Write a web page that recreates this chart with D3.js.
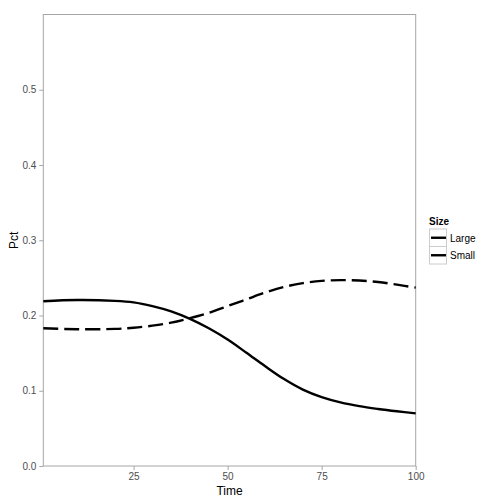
<!DOCTYPE html>
<html><head><meta charset="utf-8">
<script src="https://cdn.jsdelivr.net/npm/d3@7"></script>
<style>body{margin:0;background:#fff}text{font-family:"Liberation Sans",Arial,sans-serif}</style>
</head><body><svg id="c" width="504" height="504"></svg>
<script>
const times = [1,10,20,25,30,35,40,45,50,55,60,65,70,75,80,85,90,95,100];
const small = [0.219,0.2205,0.2195,0.2175,0.2125,0.2055,0.1955,0.183,0.168,0.1505,0.1325,0.1155,0.1015,0.0915,0.0845,0.0795,0.0758,0.0727,0.070];
const large = [0.183,0.1818,0.1822,0.1838,0.1865,0.1905,0.1965,0.2035,0.2125,0.2215,0.2305,0.238,0.243,0.246,0.247,0.2465,0.2445,0.241,0.237];
const xTicks = [25,50,75,100];
const yTicks = [0,0.1,0.2,0.3,0.4,0.5];
const seriesNames = ["Large","Small"];

const svg = d3.select("#c");
const L=43.3,R=415.7,T=14.5,B=466;
const x = d3.scaleLinear().domain([1,100]).range([L,R]);
const y = d3.scaleLinear().domain([0,0.6]).range([B,T]);
const grey="#4d4d4d";

svg.append("rect").attr("x",L).attr("y",T).attr("width",R-L).attr("height",B-T)
  .attr("fill","#fff").attr("stroke","#a6a6a6").attr("stroke-width",1);

const xa = svg.append("g").attr("transform",`translate(0,${B})`)
  .call(d3.axisBottom(x).tickValues(xTicks).tickSize(4).tickPadding(3).tickFormat(d3.format("d")));
const ya = svg.append("g").attr("transform",`translate(${L},0)`)
  .call(d3.axisLeft(y).tickValues(yTicks).tickSize(4).tickPadding(3).tickFormat(d3.format(".1f")));
[xa,ya].forEach(a=>{
  a.select(".domain").remove();
  a.selectAll(".tick line").attr("stroke","#a6a6a6");
  a.selectAll(".tick text").attr("fill",grey).style("font-size","10px").style("font-family","Liberation Sans, Arial, sans-serif");
});

const line = d3.line().curve(d3.curveCatmullRom.alpha(0.5)).x(d=>x(d[0])).y(d=>y(d[1]));
const data = {Large: times.map((t,i)=>[t,large[i]]), Small: times.map((t,i)=>[t,small[i]])};
const dash = {Large:"15,6", Small:null};
seriesNames.forEach(n=>{
  svg.append("path").datum(data[n]).attr("d",line).attr("fill","none")
    .attr("stroke","#000").attr("stroke-width",2.4).attr("stroke-dasharray",dash[n]);
});

svg.append("text").attr("x",(L+R)/2).attr("y",495).attr("text-anchor","middle")
  .style("font-size","12px").attr("fill","#000").text("Time");
svg.append("text").attr("transform",`translate(18,${(T+B)/2}) rotate(-90)`).attr("text-anchor","middle")
  .style("font-size","12px").attr("fill","#000").text("Pct");

const lg = svg.append("g");
lg.append("text").attr("x",429).attr("y",225).style("font-size","10px").style("font-weight","bold").text("Size");
seriesNames.forEach((n,i)=>{
  const ky = 229 + i*17.5;
  lg.append("rect").attr("x",429.5).attr("y",ky).attr("width",17).attr("height",17.5)
    .attr("fill","#fff").attr("stroke","#cccccc").attr("stroke-width",1);
  lg.append("line").attr("x1",431).attr("x2",446).attr("y1",ky+8.75).attr("y2",ky+8.75)
    .attr("stroke","#000").attr("stroke-width",2.4).attr("stroke-dasharray",dash[n]);
  lg.append("text").attr("x",450).attr("y",ky+12.5).style("font-size","10px").attr("fill","#000").text(n);
});
</script></body></html>
